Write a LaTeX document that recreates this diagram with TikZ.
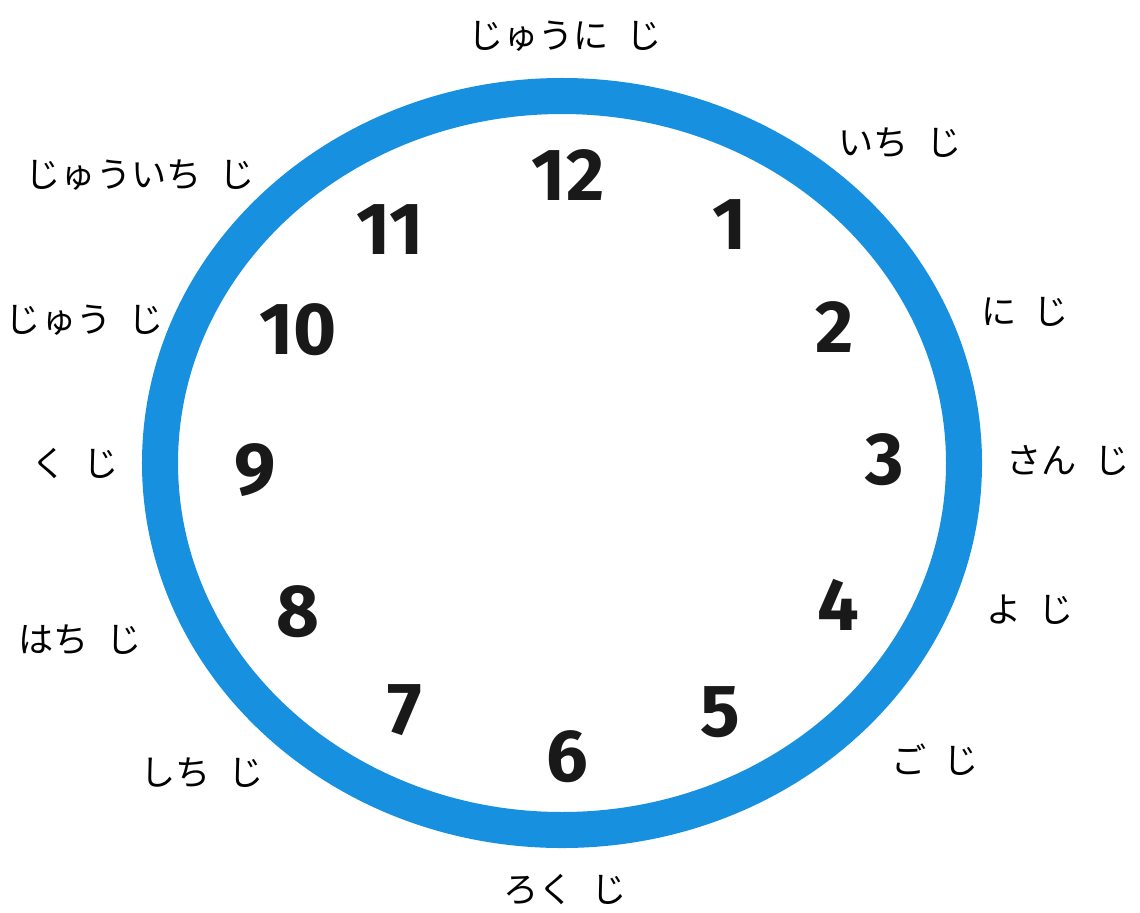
\documentclass[tikz,border=0pt]{standalone}
\usepackage{fontspec}
\newfontfamily\jpfont{Noto Sans CJK JP}
\newfontfamily\numfont{Fira Sans}
\usepackage{tikz}
\definecolor{ringblue}{RGB}{24,144,224}

\begin{document}
\begin{tikzpicture}[
				x=0.01cm,
				y=-0.01cm,
				line cap=round,
				line join=round,
				hournum/.style={font=\numfont\bfseries\fontsize{21}{23}\selectfont, text=black!90},
				hourname/.style={font=\jpfont\fontsize{10}{12}\selectfont}
				]
				\useasboundingbox (0,0) rectangle (1140,912);
				
				% Ring
				\draw[ringblue, line width=0.36cm] (562,463) ellipse (402 and 367);
				
				% Numbers
				\node[hournum] (n12) at (568,175) {12};
				\node[hournum] (n1) at (730,225) {1};
				\node[hournum] (n2) at (835,327) {2};
				\node[hournum] (n3) at (885,460) {3};
				\node[hournum] (n4) at (838,605) {4};
				\node[hournum] (n5) at (720,712) {5};
				\node[hournum] (n6) at (567,757) {6};
				\node[hournum] (n7) at (405,710) {7};
				\node[hournum] (n8) at (298,612) {8};
				\node[hournum] (n9) at (255,470) {9};
				\node[hournum] (n10) at (298,330) {10};
				\node[hournum] (n11) at (390,230) {11};
				
				% Labels
				\node[hourname] (l12) at (565,36) {じゅうに\hspace{0.5em}じ};
				\node[hourname] (l1) at (900,143) {いち\hspace{0.5em}じ};
				\node[hourname] (l2) at (1025,312) {に\hspace{0.5em}じ};
				\node[hourname] (l3) at (1068,460) {さん\hspace{0.5em}じ};
				\node[hourname] (l4) at (1030,610) {よ\hspace{0.5em}じ};
				\node[hourname] (l5) at (935,760) {ご\hspace{0.5em}じ};
				\node[hourname] (l6) at (565,890) {ろく\hspace{0.5em}じ};
				\node[hourname] (l7) at (202,773) {しち\hspace{0.5em}じ};
				\node[hourname] (l8) at (80,640) {はち\hspace{0.5em}じ};
				\node[hourname] (l9) at (75,463) {く\hspace{0.5em}じ};
				\node[hourname] (l10) at (85,320) {じゅう\hspace{0.5em}じ};
				\node[hourname] (l11) at (140,175) {じゅういち\hspace{0.5em}じ};
			\end{tikzpicture}
\end{document}
